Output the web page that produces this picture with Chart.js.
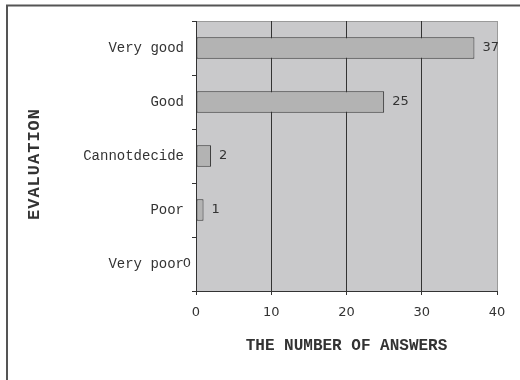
<!DOCTYPE html>
<html>
<head>
<meta charset="utf-8">
<script src="https://cdn.jsdelivr.net/npm/chart.js@4/dist/chart.umd.min.js"></script>
<style>
  html, body { margin: 0; padding: 0; background: #fff; }
  #wrap { width: 520px; height: 380px; position: relative; }
</style>
</head>
<body>
<div id="wrap"><canvas id="c" width="520" height="380"></canvas></div>
<script>
// Survey answers per evaluation level
const categories = ['Very good', 'Good', 'Cannotdecide', 'Poor', 'Very poor'];
const answers = [37, 25, 2, 1, 0];
const xTicks = [0, 10, 20, 30, 40];
const yTitle = 'EVALUATION';
const xTitle = 'THE NUMBER OF ANSWERS';

const INK = '#333333';

// Frame lines, plot background and axis titles
const decor = {
  id: 'decor',
  beforeDraw(chart) {
    const { ctx, chartArea: a } = chart;
    ctx.save();
    ctx.fillStyle = '#c9c9cb';
    ctx.fillRect(a.left, a.top, a.right - a.left, a.bottom - a.top);
    ctx.strokeStyle = '#9a9a9a';
    ctx.lineWidth = 1;
    ctx.beginPath();
    ctx.moveTo(a.left, a.top + 0.5);
    ctx.lineTo(a.right, a.top + 0.5);
    ctx.stroke();
    // outer frame
    ctx.strokeStyle = '#555555';
    ctx.lineWidth = 2;
    ctx.beginPath();
    ctx.moveTo(7, 385);
    ctx.lineTo(7, 5.5);
    ctx.lineTo(525, 5.5);
    ctx.stroke();
    ctx.restore();
  },
  afterDraw(chart) {
    const { ctx, chartArea: a } = chart;
    ctx.save();
    ctx.fillStyle = INK;
    ctx.textAlign = 'center';
    ctx.textBaseline = 'middle';
    ctx.font = 'bold 16px "Liberation Mono"';
    ctx.fillText(xTitle, (a.left + a.right) / 2, 346);
    ctx.translate(35, 164);
    ctx.rotate(-Math.PI / 2);
    ctx.font = 'bold 17px "Liberation Mono"';
    if ('letterSpacing' in ctx) ctx.letterSpacing = '1px';
    ctx.fillText(yTitle, 0, 0);
    ctx.restore();
  }
};

// Value printed beside each bar
const valueLabels = {
  id: 'valueLabels',
  afterDatasetsDraw(chart) {
    const { ctx } = chart;
    const meta = chart.getDatasetMeta(0);
    ctx.save();
    ctx.fillStyle = INK;
    ctx.font = '13px "DejaVu Sans"';
    ctx.textBaseline = 'middle';
    meta.data.forEach((bar, i) => {
      const v = answers[i];
      if (v === 0) {
        ctx.textAlign = 'right';
        ctx.fillText(String(v), bar.x - 5, bar.y);
      } else {
        ctx.textAlign = 'left';
        ctx.fillText(String(v), bar.x + 8, bar.y);
      }
    });
    ctx.restore();
  }
};

new Chart(document.getElementById('c'), {
  type: 'bar',
  data: {
    labels: categories,
    datasets: [{
      data: answers,
      backgroundColor: '#b3b3b3',
      borderColor: INK,
      borderWidth: 1,
      borderSkipped: false,
      categoryPercentage: 1,
      barPercentage: 0.4
    }]
  },
  options: {
    indexAxis: 'y',
    responsive: false,
    animation: false,
    devicePixelRatio: 1,
    layout: { padding: { top: 21, right: 23, left: 0, bottom: 0 } },
    plugins: { legend: { display: false }, tooltip: { enabled: false } },
    scales: {
      x: {
        min: 0,
        max: 40,
        afterBuildTicks(scale) { scale.ticks = xTicks.map(v => ({ value: v })); },
        afterFit(scale) { scale.height = 89; },
        border: { display: true, color: INK, width: 1 },
        grid: {
          color: (c) => (c.tick && c.tick.value === 40 ? '#9a9a9a' : INK),
          tickColor: INK,
          tickLength: 4,
          lineWidth: 1
        },
        ticks: {
          color: INK,
          padding: 10,
          font: { family: 'DejaVu Sans', size: 13 }
        }
      },
      y: {
        afterFit(scale) { scale.width = 196; },
        border: { display: true, color: INK, width: 1 },
        grid: {
          drawOnChartArea: false,
          drawTicks: true,
          tickLength: 4,
          color: INK
        },
        ticks: {
          color: INK,
          padding: 8,
          font: { family: 'Liberation Mono', size: 14 }
        }
      }
    }
  },
  plugins: [decor, valueLabels]
});
</script>
</body>
</html>
